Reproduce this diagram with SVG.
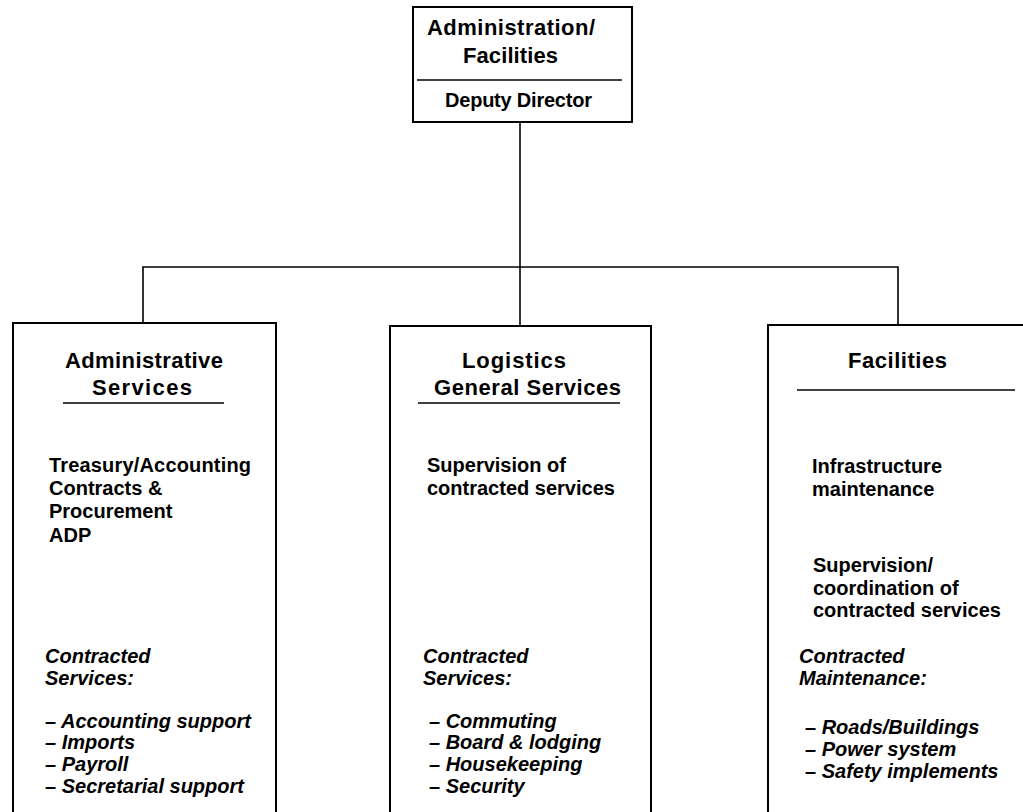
<svg xmlns="http://www.w3.org/2000/svg" width="1023" height="812" viewBox="0 0 1023 812">
  <style>
    .box { fill: none; stroke: #000; stroke-width: 2; }
    .rule { stroke: #000; stroke-width: 1.6; }
    .conn { fill: none; stroke: #000; stroke-width: 1.6; }
    text { font-family: "Liberation Sans", Arial, sans-serif; font-weight: bold; fill: #000; }
    .h { font-size: 22px; }
    .b { font-size: 20px; }
    .i { font-size: 20px; font-style: italic; }
  </style>
  <rect width="1023" height="812" fill="#fff"/>

  <g id="connectors">
    <path class="conn" d="M520,122 V326"/>
    <path class="conn" d="M143,323 V267 H898 V325"/>
  </g>

  <g id="node-top">
    <rect class="box" x="413" y="7" width="219" height="115"/>
    <text class="h" x="427" y="35" textLength="168" lengthAdjust="spacing">Administration/</text>
    <text class="h" x="463" y="63" textLength="95" lengthAdjust="spacing">Facilities</text>
    <line class="rule" x1="417" y1="80" x2="622" y2="80"/>
    <text class="b" x="445" y="107" textLength="147" lengthAdjust="spacing">Deputy Director</text>
  </g>

  <g id="node-admin">
    <path class="box" d="M13,812 V323 H276 V812"/>
    <text class="h" x="65" y="368" textLength="158" lengthAdjust="spacing">Administrative</text>
    <text class="h" x="92" y="395" textLength="100" lengthAdjust="spacing">Services</text>
    <line class="rule" x1="63" y1="403" x2="224" y2="403"/>
    <text class="b" x="49" y="472" textLength="202" lengthAdjust="spacing">Treasury/Accounting</text>
    <text class="b" x="49" y="495">Contracts &amp;</text>
    <text class="b" x="49" y="518">Procurement</text>
    <text class="b" x="49" y="542">ADP</text>
    <text class="i" x="45" y="663">Contracted</text>
    <text class="i" x="45" y="685">Services:</text>
    <text class="i" x="45" y="728">– Accounting support</text>
    <text class="i" x="45" y="749">– Imports</text>
    <text class="i" x="45" y="771">– Payroll</text>
    <text class="i" x="45" y="793">– Secretarial support</text>
  </g>

  <g id="node-logistics">
    <path class="box" d="M390,812 V326 H651 V812"/>
    <text class="h" x="462" y="368" textLength="104" lengthAdjust="spacing">Logistics</text>
    <text class="h" x="434" y="395" textLength="187" lengthAdjust="spacing">General Services</text>
    <line class="rule" x1="418" y1="403" x2="620" y2="403"/>
    <text class="b" x="427" y="472">Supervision of</text>
    <text class="b" x="427" y="495">contracted services</text>
    <text class="i" x="423" y="663">Contracted</text>
    <text class="i" x="423" y="685">Services:</text>
    <text class="i" x="429" y="728">– Commuting</text>
    <text class="i" x="429" y="749">– Board &amp; lodging</text>
    <text class="i" x="429" y="771">– Housekeeping</text>
    <text class="i" x="429" y="793">– Security</text>
  </g>

  <g id="node-facilities">
    <path class="box" d="M768,812 V325 H1030"/>
    <text class="h" x="848" y="368" textLength="99" lengthAdjust="spacing">Facilities</text>
    <line class="rule" x1="797" y1="390" x2="1015" y2="390"/>
    <text class="b" x="812" y="473">Infrastructure</text>
    <text class="b" x="812" y="496">maintenance</text>
    <text class="b" x="813" y="572">Supervision/</text>
    <text class="b" x="813" y="595">coordination of</text>
    <text class="b" x="813" y="617">contracted services</text>
    <text class="i" x="799" y="663">Contracted</text>
    <text class="i" x="799" y="685">Maintenance:</text>
    <text class="i" x="805" y="734">– Roads/Buildings</text>
    <text class="i" x="805" y="756">– Power system</text>
    <text class="i" x="805" y="778">– Safety implements</text>
  </g>
</svg>
